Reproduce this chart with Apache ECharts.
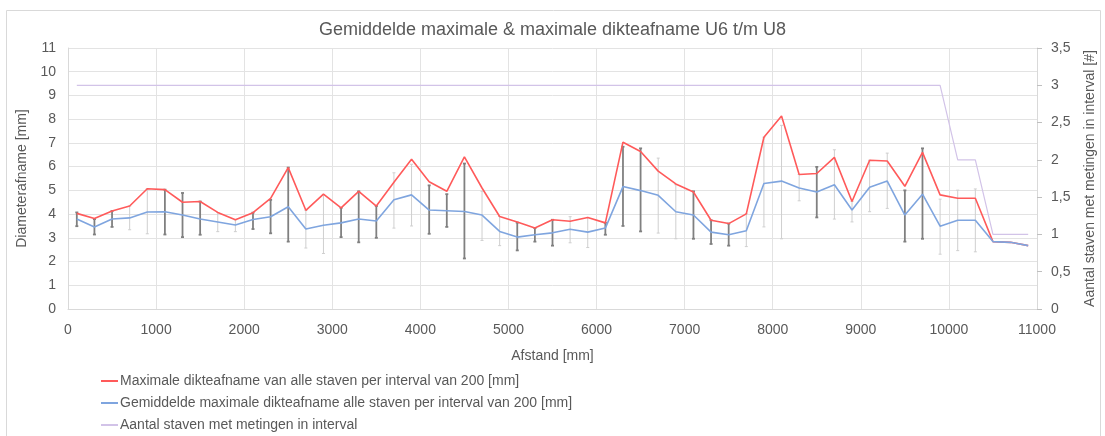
<!DOCTYPE html>
<html>
<head>
<meta charset="utf-8">
<title>Gemiddelde maximale & maximale dikteafname U6 t/m U8</title>
<script src="https://cdn.jsdelivr.net/npm/echarts@6/dist/echarts.min.js"></script>
<style>
    html, body { margin: 0; padding: 0; background: #fff; }
    #chart { width: 1105px; height: 436px; }
</style>
</head>
<body>
<div id="chart"></div>
<script>
// afstand (midden van elk interval van 200 mm)
var afstand = [100, 300, 500, 700, 900, 1100, 1300, 1500, 1700, 1900,
    2100, 2300, 2500, 2700, 2900, 3100, 3300, 3500, 3700, 3900,
    4100, 4300, 4500, 4700, 4900, 5100, 5300, 5500, 5700, 5900,
    6100, 6300, 6500, 6700, 6900, 7100, 7300, 7500, 7700, 7900,
    8100, 8300, 8500, 8700, 8900, 9100, 9300, 9500, 9700, 9900,
    10100, 10300, 10500, 10700, 10900];
// maximale dikteafname
var maxAfname = [4.03, 3.81, 4.13, 4.34, 5.07, 5.03, 4.5, 4.53, 4.07, 3.76,
    4.06, 4.66, 5.96, 4.16, 4.84, 4.26, 4.96, 4.34, 5.34, 6.31,
    5.36, 4.96, 6.41, 5.1, 3.9, 3.67, 3.41, 3.76, 3.7, 3.86,
    3.63, 7.03, 6.64, 5.81, 5.27, 4.93, 3.74, 3.6, 4.01, 7.24,
    8.13, 5.67, 5.71, 6.39, 4.53, 6.27, 6.24, 5.17, 6.6, 4.81,
    4.67, 4.67, 2.84, 2.81, 2.67];
// gemiddelde maximale dikteafname
var gemAfname = [3.79, 3.46, 3.79, 3.84, 4.09, 4.1, 3.96, 3.79, 3.67, 3.54,
    3.77, 3.89, 4.31, 3.37, 3.53, 3.63, 3.79, 3.71, 4.6, 4.81,
    4.17, 4.14, 4.11, 3.96, 3.27, 3.03, 3.13, 3.21, 3.36, 3.24,
    3.41, 5.16, 4.99, 4.79, 4.1, 3.96, 3.24, 3.13, 3.3, 5.29,
    5.39, 5.1, 4.93, 5.24, 4.17, 5.13, 5.39, 3.96, 4.84, 3.49,
    3.74, 3.74, 2.84, 2.81, 2.67];
// aantal staven met metingen
var aantalStaven = [3, 3, 3, 3, 3, 3, 3, 3, 3, 3,
    3, 3, 3, 3, 3, 3, 3, 3, 3, 3,
    3, 3, 3, 3, 3, 3, 3, 3, 3, 3,
    3, 3, 3, 3, 3, 3, 3, 3, 3, 3,
    3, 3, 3, 3, 3, 3, 3, 3, 3, 3,
    2, 2, 1, 1, 1];
// foutbalken: boven- en ondergrens
var foutBoven = [4.07, 3.79, 4.13, 4.34, 5.07, 5.03, 4.89, 4.53, 4.07, 3.76,
    4.06, 4.6, 5.96, 4.16, 4.81, 4.26, 4.96, 4.34, 5.74, 6.1,
    5.21, 4.84, 6.13, 4.96, 3.9, 3.64, 3.41, 3.76, 3.89, 3.86,
    3.63, 6.84, 6.77, 6.36, 5.24, 4.96, 3.74, 3.6, 4.01, 7.24,
    7.74, 5.67, 5.99, 6.71, 4.53, 6.27, 6.57, 5.0, 6.77, 4.63,
    5.01, 5.06, null, null, null];
var foutOnder = [3.49, 3.14, 3.46, 3.34, 3.17, 3.14, 3.03, 3.13, 3.26, 3.26,
    3.37, 3.19, 2.84, 2.57, 2.34, 3.03, 2.81, 3.0, 3.41, 3.5,
    3.17, 3.46, 2.13, 2.89, 2.67, 2.47, 2.84, 2.67, 2.79, 2.59,
    3.13, 3.5, 3.27, 3.2, 2.96, 2.96, 2.74, 2.67, 2.63, 3.46,
    2.96, 4.56, 3.86, 3.79, 3.67, 4.1, 4.24, 2.84, 2.96, 2.31,
    2.46, 2.41, null, null, null];
// foutbalken die in het origineel vaag zijn weergegeven
var vageBalken = [700, 900, 1700, 1900, 2700, 2900, 3700, 3900, 4700, 4900,
    5700, 5900, 6700, 6900, 7700, 7900, 8100, 8300, 8700, 8900,
    9100, 9300, 9900, 10100, 10300];

var legendNamen = [
    'Maximale dikteafname van alle staven per interval van 200 [mm]',
    'Gemiddelde maximale dikteafname alle staven per interval van 200 [mm]',
    'Aantal staven met metingen in interval'
];

var showChart = {
    chart: null,
    tekstKleur: '#595959',
    font: '"Liberation Sans", Arial, sans-serif',
    /**
     * punten [x, y] opbouwen
     */
    punten: function (ys) {
        let out = [];
        for (let i = 0; i < afstand.length; i++) {
            out.push([afstand[i], ys[i]]);
        }
        return out;
    },
    /**
     * foutbalken [x, onder, boven]
     */
    balken: function () {
        let out = [];
        for (let i = 0; i < afstand.length; i++) {
            if (foutBoven[i] == null) continue;
            out.push([afstand[i], foutOnder[i], foutBoven[i]]);
        }
        return out;
    },
    renderBalk: function (params, api) {
        let x = api.value(0);
        let p1 = api.coord([x, api.value(1)]);
        let p2 = api.coord([x, api.value(2)]);
        let vaag = vageBalken.indexOf(x) >= 0;
        let stijl = {
            stroke: vaag ? '#cfcfcf' : '#808080',
            lineWidth: vaag ? 1 : 1.8
        };
        return {
            type: 'group',
            children: [
                {type: 'line', shape: {x1: p1[0], y1: p1[1], x2: p2[0], y2: p2[1]}, style: stijl},
                {type: 'line', shape: {x1: p1[0] - 1.5, y1: p1[1], x2: p1[0] + 1.5, y2: p1[1]}, style: stijl},
                {type: 'line', shape: {x1: p2[0] - 1.5, y1: p2[1], x2: p2[0] + 1.5, y2: p2[1]}, style: stijl}
            ]
        };
    },
    getOption: function () {
        let self = this;
        let tekst = {color: this.tekstKleur, fontFamily: this.font, fontSize: 14};
        return {
            animation: false,
            textStyle: {fontFamily: this.font},
            title: {
                text: 'Gemiddelde maximale & maximale dikteafname U6 t/m U8',
                left: 'center',
                top: 16,
                textStyle: {color: this.tekstKleur, fontFamily: this.font, fontSize: 18, fontWeight: 'normal'}
            },
            graphic: [{
                type: 'rect',
                shape: {x: 6.5, y: 10.5, width: 1094, height: 440},
                style: {fill: 'none', stroke: '#d9d9d9', lineWidth: 1},
                silent: true
            }],
            legend: {
                orient: 'vertical',
                left: 101,
                top: 374,
                height: 80,
                padding: 0,
                itemGap: 8,
                itemWidth: 17,
                itemHeight: 2,
                icon: 'rect',
                textStyle: {color: this.tekstKleur, fontFamily: this.font, fontSize: 14, padding: [0, 0, 0, -3]},
                data: legendNamen
            },
            grid: {left: 68, right: 68, top: 48, bottom: 127},
            xAxis: {
                type: 'value',
                min: 0,
                max: 11000,
                interval: 1000,
                name: 'Afstand [mm]',
                nameLocation: 'middle',
                nameGap: 40,
                nameTextStyle: tekst,
                axisLine: {show: true, lineStyle: {color: '#d9d9d9'}},
                axisTick: {show: false},
                axisLabel: Object.assign({
                    margin: 14,
                    formatter: function (v) { return String(v); }
                }, tekst),
                splitLine: {show: true, lineStyle: {color: '#e3e3e3'}}
            },
            yAxis: [{
                type: 'value',
                min: 0,
                max: 11,
                interval: 1,
                name: 'Diameterafname [mm]',
                nameLocation: 'middle',
                nameGap: 36,
                nameTextStyle: tekst,
                axisLine: {show: true, lineStyle: {color: '#d9d9d9'}},
                axisTick: {show: false},
                axisLabel: Object.assign({margin: 12}, tekst),
                splitLine: {show: true, lineStyle: {color: '#e3e3e3'}}
            }, {
                type: 'value',
                min: 0,
                max: 3.5,
                interval: 0.5,
                name: 'Aantal staven met metingen in interval [#]',
                nameLocation: 'middle',
                nameGap: 46,
                nameTextStyle: tekst,
                axisLine: {show: true, lineStyle: {color: '#d9d9d9'}},
                axisTick: {show: true, length: 5, lineStyle: {color: '#bfbfbf'}},
                axisLabel: Object.assign({
                    margin: 14,
                    formatter: function (v) { return String(v).replace('.', ','); }
                }, tekst),
                splitLine: {show: false}
            }],
            series: [{
                name: legendNamen[0],
                type: 'line',
                data: this.punten(maxAfname),
                showSymbol: false,
                z: 4,
                lineStyle: {color: '#ff5a5a', width: 1.6},
                itemStyle: {color: '#ff5a5a'}
            }, {
                name: legendNamen[1],
                type: 'line',
                data: this.punten(gemAfname),
                showSymbol: false,
                z: 4,
                lineStyle: {color: '#7fa5df', width: 1.6},
                itemStyle: {color: '#7fa5df'}
            }, {
                name: legendNamen[2],
                type: 'line',
                yAxisIndex: 1,
                data: this.punten(aantalStaven),
                showSymbol: false,
                z: 3,
                lineStyle: {color: '#d2c3e8', width: 1.2},
                itemStyle: {color: '#d2c3e8'}
            }, {
                name: 'foutbalken',
                type: 'custom',
                data: this.balken(),
                z: 2,
                renderItem: function (params, api) { return self.renderBalk(params, api); },
                encode: {x: 0, y: [1, 2]}
            }]
        };
    },
    init: function (id) {
        this.chart = echarts.init(document.getElementById(id));
        if (this.chart)
            this.chart.setOption(this.getOption());
    }
};

showChart.init('chart');
</script>
</body>
</html>
